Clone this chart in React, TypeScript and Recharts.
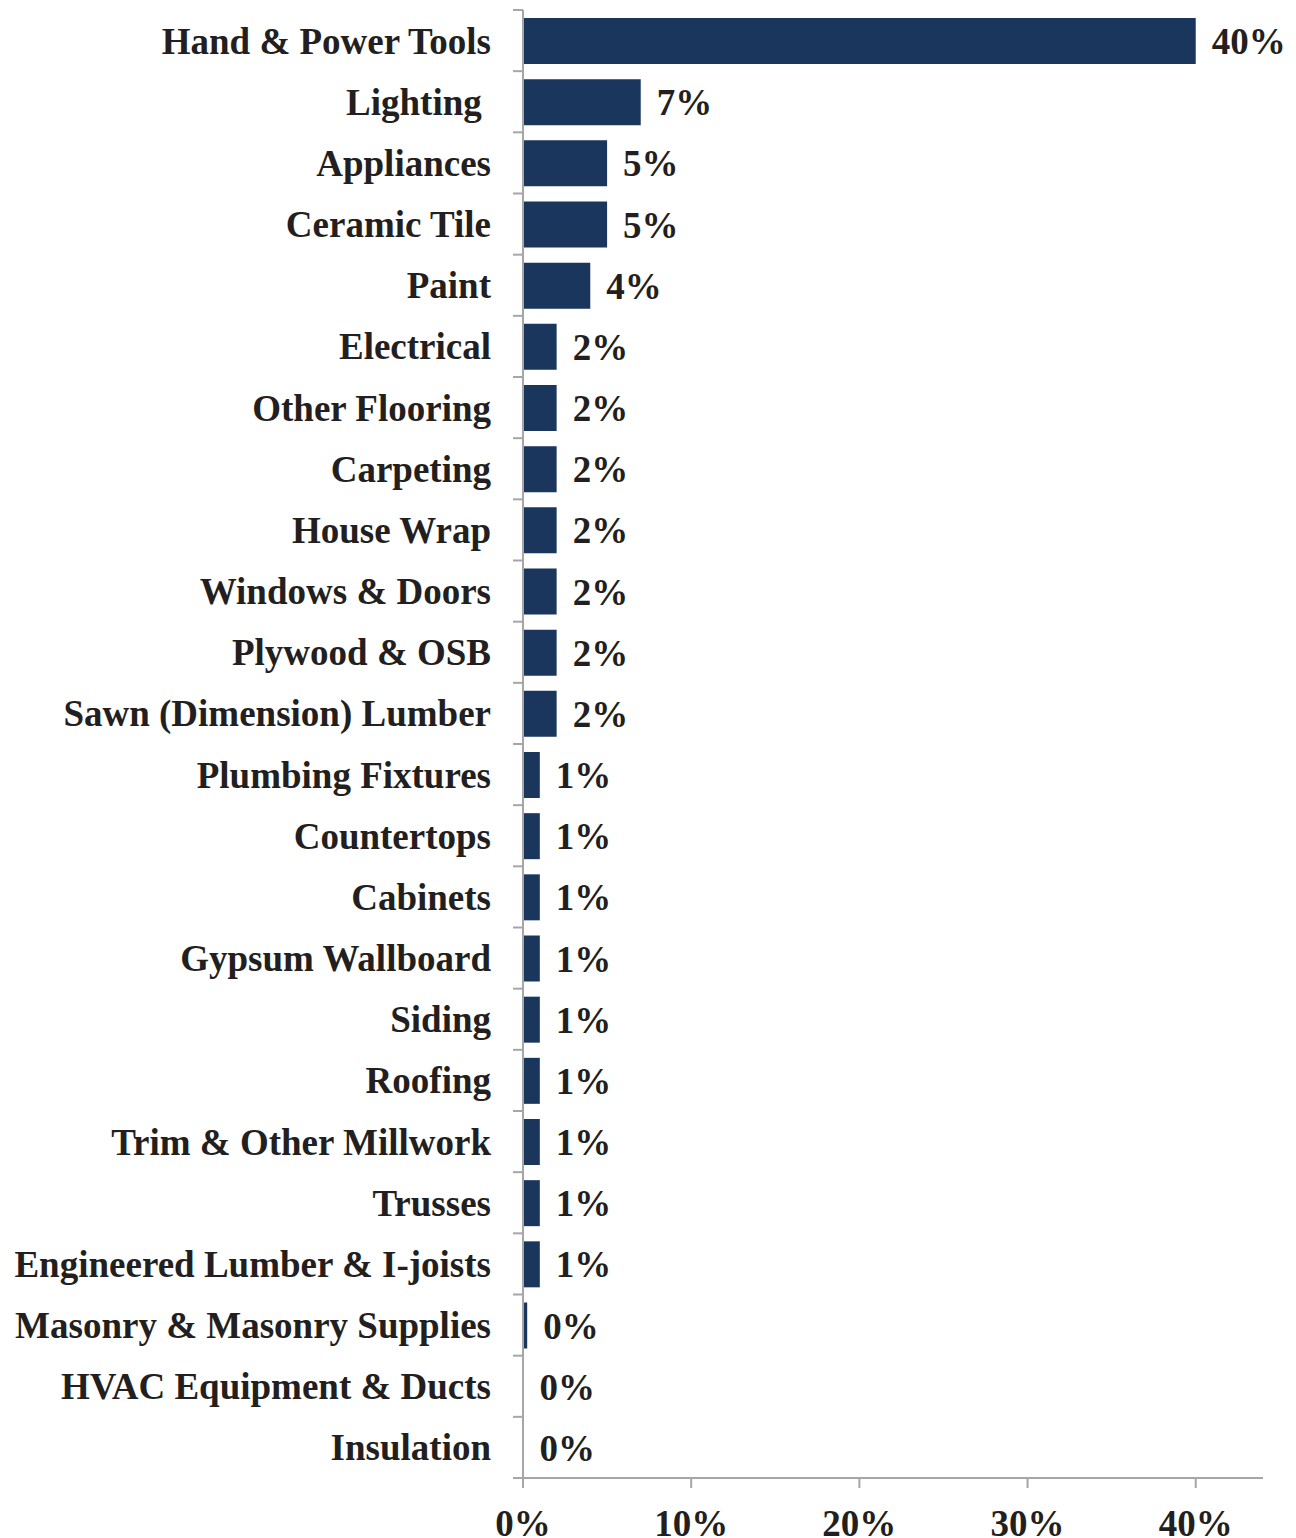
import { BarChart, Bar, XAxis, YAxis, LabelList } from 'recharts'

const categories = [
  'Hand & Power Tools',
  'Lighting ',
  'Appliances',
  'Ceramic Tile',
  'Paint',
  'Electrical',
  'Other Flooring',
  'Carpeting',
  'House Wrap',
  'Windows & Doors',
  'Plywood & OSB',
  'Sawn (Dimension) Lumber',
  'Plumbing Fixtures',
  'Countertops',
  'Cabinets',
  'Gypsum Wallboard',
  'Siding',
  'Roofing',
  'Trim & Other Millwork',
  'Trusses',
  'Engineered Lumber & I-joists',
  'Masonry & Masonry Supplies',
  'HVAC Equipment & Ducts',
  'Insulation',
]

const shares = [40, 7, 5, 5, 4, 2, 2, 2, 2, 2, 2, 2, 1, 1, 1, 1, 1, 1, 1, 1, 1, 0.25, 0, 0]

const xTicks = [0, 10, 20, 30, 40]

const data = categories.map((name, i) => ({ name, share: shares[i] }))

const CHART_W = 1296
const CHART_H = 1538
const MARGIN = { top: 10, right: 33, bottom: 0, left: 0 }
const X_AXIS_H = 60
const BAND = (CHART_H - MARGIN.top - MARGIN.bottom - X_AXIS_H) / categories.length
const LABEL_GAP = 32

const FONT = '"Liberation Serif", "Times New Roman", Times, serif'
const FONT_SIZE = 37
const TEXT = '#231f20'
const AXIS = '#a6a6a6'
const BAR = '#1a365d'

const CategoryTick = (props: any) => {
  const { x, y, payload, index, visibleTicksCount } = props
  const axisX = x + LABEL_GAP
  const half = BAND / 2
  return (
    <g>
      <text
        x={x}
        y={y}
        dy="0.35em"
        textAnchor="end"
        fill={TEXT}
        fontFamily={FONT}
        fontWeight="bold"
        fontSize={FONT_SIZE}
        style={{ whiteSpace: 'pre' }}
      >
        {payload.value}
      </text>
      <line x1={axisX - 10} x2={axisX} y1={y - half} y2={y - half} stroke={AXIS} strokeWidth={2} />
      {index === visibleTicksCount - 1 && (
        <line x1={axisX - 10} x2={axisX} y1={y + half} y2={y + half} stroke={AXIS} strokeWidth={2} />
      )}
    </g>
  )
}

export default function App() {
  return (
    <div style={{ position: 'absolute', left: 0, top: 0, background: '#fff' }}>
      <BarChart width={CHART_W} height={CHART_H} data={data} layout="vertical" margin={MARGIN}>
        <XAxis
          type="number"
          domain={[0, 44]}
          ticks={xTicks}
          tickFormatter={(v) => `${v}%`}
          height={X_AXIS_H}
          axisLine={{ stroke: AXIS, strokeWidth: 2 }}
          tickLine={{ stroke: AXIS, strokeWidth: 2 }}
          tickSize={10}
          tickMargin={22}
          tick={{ fill: TEXT, fontFamily: FONT, fontWeight: 'bold', fontSize: FONT_SIZE }}
          interval={0}
        />
        <YAxis
          type="category"
          dataKey="name"
          width={523}
          axisLine={{ stroke: AXIS, strokeWidth: 2 }}
          tickLine={false}
          tickSize={0}
          tickMargin={LABEL_GAP}
          tick={<CategoryTick />}
          interval={0}
        />
        <Bar dataKey="share" fill={BAR} barSize={46} minPointSize={0.5} isAnimationActive={false}>
          <LabelList
            dataKey="share"
            position="right"
            offset={16}
            formatter={(v: any) => `${Math.round(v)}%`}
            fill={TEXT}
            fontFamily={FONT}
            fontWeight="bold"
            fontSize={FONT_SIZE}
          />
        </Bar>
      </BarChart>
    </div>
  )
}
